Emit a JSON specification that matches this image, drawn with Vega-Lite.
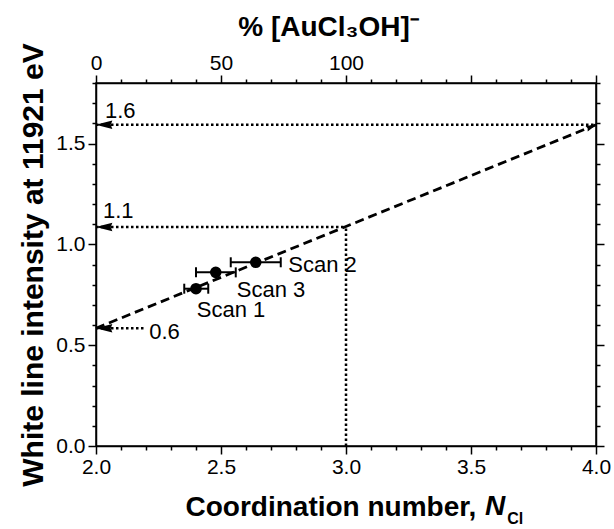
{
  "$schema": "https://vega.github.io/schema/vega-lite/v6.json",
  "width": 500,
  "height": 363,
  "autosize": "none",
  "padding": {"left": 96, "top": 83, "right": 18, "bottom": 83},
  "background": "white",
  "config": {
    "font": "Liberation Sans",
    "view": {"stroke": "black", "strokeWidth": 1.5},
    "axis": {
      "domainColor": "black", "tickColor": "black", "labelColor": "black", "titleColor": "black",
      "domainWidth": 1.5, "tickWidth": 1.5, "grid": false,
      "labelFont": "Liberation Sans", "titleFont": "Liberation Sans",
      "labelFontSize": 21, "titleFontSize": 28, "titleFontWeight": "bold"
    }
  },
  "datasets": {
    "scans": [
      {"scan": "Scan 1", "n": 2.40, "wl": 0.78, "lo": 2.353, "hi": 2.449},
      {"scan": "Scan 3", "n": 2.479, "wl": 0.861, "lo": 2.40, "hi": 2.559},
      {"scan": "Scan 2", "n": 2.639, "wl": 0.911, "lo": 2.539, "hi": 2.739}
    ],
    "fit": [
      {"n": 2.0, "wl": 0.584},
      {"n": 4.0, "wl": 1.593}
    ],
    "fitEnd": [
      {"n": 4.0, "wl": 1.593}
    ],
    "guides": [
      {"x": 2.0, "x2": 4.0, "y": 1.593, "y2": 1.593},
      {"x": 2.0, "x2": 3.0, "y": 1.086, "y2": 1.086},
      {"x": 3.0, "x2": 3.0, "y": 0.0, "y2": 1.086},
      {"x": 2.0, "x2": 2.2, "y": 0.584, "y2": 0.584}
    ],
    "arrows": [
      {"n": 2.0, "wl": 1.593},
      {"n": 2.0, "wl": 1.086},
      {"n": 2.0, "wl": 0.584}
    ],
    "labels": [
      {"n": 2.036, "wl": 1.663, "t": "1.6"},
      {"n": 2.028, "wl": 1.165, "t": "1.1"},
      {"n": 2.213, "wl": 0.564, "t": "0.6"},
      {"n": 2.403, "wl": 0.673, "t": "Scan 1"},
      {"n": 2.563, "wl": 0.772, "t": "Scan 3"},
      {"n": 2.769, "wl": 0.896, "t": "Scan 2"}
    ],
    "titleN": [
      {"n": 3.556, "wl": -0.342, "t": "N"}
    ],
    "titleSub": [
      {"n": 3.645, "wl": -0.385, "t": "Cl"}
    ]
  },
  "layer": [
    {
      "data": {"name": "guides"},
      "mark": {"type": "rule", "color": "black", "strokeWidth": 2.5, "strokeDash": [2.5, 2.5]},
      "encoding": {
        "x": {
          "field": "x", "type": "quantitative",
          "scale": {"domain": [2, 4], "nice": false},
          "axis": {
            "orient": "bottom",
            "values": [2.0, 2.1, 2.2, 2.3, 2.4, 2.5, 2.6, 2.7, 2.8, 2.9, 3.0, 3.1, 3.2, 3.3, 3.4, 3.5, 3.6, 3.7, 3.8, 3.9, 4.0],
            "labelExpr": "abs(datum.value*2 - round(datum.value*2)) < 0.001 ? format(datum.value, '.1f') : ''",
            "tickSize": {"condition": {"test": "abs(datum.value*2 - round(datum.value*2)) < 0.001", "value": 8}, "value": 4},
            "labelPadding": 2,
            "labelFlush": false,
            "labelOverlap": false,
            "title": "Coordination number,",
            "titleAlign": "left",
            "titleBaseline": "alphabetic",
            "titleX": 89,
            "titleY": 69
          }
        },
        "x2": {"field": "x2"},
        "y": {
          "field": "y", "type": "quantitative",
          "scale": {"domain": [0, 1.8], "nice": false},
          "axis": {
            "orient": "left",
            "values": [0, 0.1, 0.2, 0.3, 0.4, 0.5, 0.6, 0.7, 0.8, 0.9, 1.0, 1.1, 1.2, 1.3, 1.4, 1.5, 1.6, 1.7, 1.8],
            "labelExpr": "abs(datum.value*2 - round(datum.value*2)) < 0.001 ? format(datum.value, '.1f') : ''",
            "tickSize": {"condition": {"test": "abs(datum.value*2 - round(datum.value*2)) < 0.001", "value": 8}, "value": 4},
            "labelPadding": 3,
            "labelFlush": false,
            "labelOverlap": false,
            "title": "White line intensity at 11921 eV",
            "titleFontSize": 30,
            "titlePadding": 7
          }
        },
        "y2": {"field": "y2"}
      }
    },
    {
      "data": {"name": "fit"},
      "mark": {"type": "line", "color": "black", "strokeWidth": 2.8, "strokeDash": [9, 5]},
      "encoding": {
        "x": {
          "field": "n", "type": "quantitative",
          "scale": {"domain": [2, 4], "nice": false},
          "axis": {
            "orient": "top",
            "values": [2.0, 2.1, 2.2, 2.3, 2.4, 2.5, 2.6, 2.7, 2.8, 2.9, 3.0, 3.1, 3.2, 3.3, 3.4, 3.5, 3.6, 3.7, 3.8, 3.9, 4.0],
            "labelExpr": "abs(datum.value-2) < 0.001 ? '0' : abs(datum.value-2.5) < 0.001 ? '50' : abs(datum.value-3) < 0.001 ? '100' : ''",
            "tickSize": {"condition": {"test": "abs(datum.value*2 - round(datum.value*2)) < 0.001", "value": 8}, "value": 4},
            "labelPadding": 2,
            "labelFlush": false,
            "labelOverlap": false,
            "title": "% [AuCl₃OH]⁻",
            "titleAlign": "center",
            "titleBaseline": "alphabetic",
            "titleX": 232,
            "titleY": -48
          }
        },
        "y": {
          "field": "wl", "type": "quantitative",
          "scale": {"domain": [0, 1.8], "nice": false},
          "axis": {
            "orient": "right",
            "values": [0, 0.1, 0.2, 0.3, 0.4, 0.5, 0.6, 0.7, 0.8, 0.9, 1.0, 1.1, 1.2, 1.3, 1.4, 1.5, 1.6, 1.7, 1.8],
            "labels": false,
            "tickSize": {"condition": {"test": "abs(datum.value*2 - round(datum.value*2)) < 0.001", "value": 8}, "value": 4},
            "title": null
          }
        }
      }
    },
    {
      "data": {"name": "scans"},
      "mark": {"type": "errorbar", "color": "black", "ticks": {"size": 10, "thickness": 2, "color": "black", "opacity": 1}, "rule": {"strokeWidth": 2, "color": "black", "opacity": 1}},
      "encoding": {
        "x": {"field": "lo", "type": "quantitative", "scale": {"domain": [2, 4], "nice": false}, "axis": null},
        "x2": {"field": "hi"},
        "y": {"field": "wl", "type": "quantitative", "scale": {"domain": [0, 1.8], "nice": false}, "axis": null}
      }
    },
    {
      "data": {"name": "scans"},
      "mark": {"type": "point", "filled": true, "color": "black", "size": 135, "opacity": 1},
      "encoding": {
        "x": {"field": "n", "type": "quantitative", "scale": {"domain": [2, 4], "nice": false}, "axis": null},
        "y": {"field": "wl", "type": "quantitative", "scale": {"domain": [0, 1.8], "nice": false}, "axis": null}
      }
    },
    {
      "data": {"name": "arrows"},
      "mark": {"type": "point", "filled": true, "color": "black", "opacity": 1, "size": 280, "shape": "M-1,0L1,-0.5L0.8,0L1,0.5Z", "xOffset": 8},
      "encoding": {
        "x": {"field": "n", "type": "quantitative", "scale": {"domain": [2, 4], "nice": false}, "axis": null},
        "y": {"field": "wl", "type": "quantitative", "scale": {"domain": [0, 1.8], "nice": false}, "axis": null}
      }
    },
    {
      "data": {"name": "fitEnd"},
      "mark": {"type": "point", "filled": true, "color": "black", "opacity": 1, "size": 110, "shape": "M-1,0L1,-0.55L0.8,0L1,0.55Z", "angle": 158, "xOffset": -4.5, "yOffset": 2},
      "encoding": {
        "x": {"field": "n", "type": "quantitative", "scale": {"domain": [2, 4], "nice": false}, "axis": null},
        "y": {"field": "wl", "type": "quantitative", "scale": {"domain": [0, 1.8], "nice": false}, "axis": null}
      }
    },
    {
      "data": {"name": "labels"},
      "mark": {"type": "text", "align": "left", "baseline": "middle", "fontSize": 22, "color": "black", "font": "Liberation Sans"},
      "encoding": {
        "x": {"field": "n", "type": "quantitative", "scale": {"domain": [2, 4], "nice": false}, "axis": null},
        "y": {"field": "wl", "type": "quantitative", "scale": {"domain": [0, 1.8], "nice": false}, "axis": null},
        "text": {"field": "t"}
      }
    },
    {
      "data": {"name": "titleN"},
      "mark": {"type": "text", "align": "left", "baseline": "alphabetic", "fontSize": 28, "fontWeight": "bold", "fontStyle": "italic", "color": "black", "font": "Liberation Sans"},
      "encoding": {
        "x": {"field": "n", "type": "quantitative", "scale": {"domain": [2, 4], "nice": false}, "axis": null},
        "y": {"field": "wl", "type": "quantitative", "scale": {"domain": [0, 1.8], "nice": false}, "axis": null},
        "text": {"field": "t"}
      }
    },
    {
      "data": {"name": "titleSub"},
      "mark": {"type": "text", "align": "left", "baseline": "alphabetic", "fontSize": 16, "fontWeight": "bold", "color": "black", "font": "Liberation Sans"},
      "encoding": {
        "x": {"field": "n", "type": "quantitative", "scale": {"domain": [2, 4], "nice": false}, "axis": null},
        "y": {"field": "wl", "type": "quantitative", "scale": {"domain": [0, 1.8], "nice": false}, "axis": null},
        "text": {"field": "t"}
      }
    }
  ],
  "resolve": {"axis": {"x": "independent", "y": "independent"}}
}
